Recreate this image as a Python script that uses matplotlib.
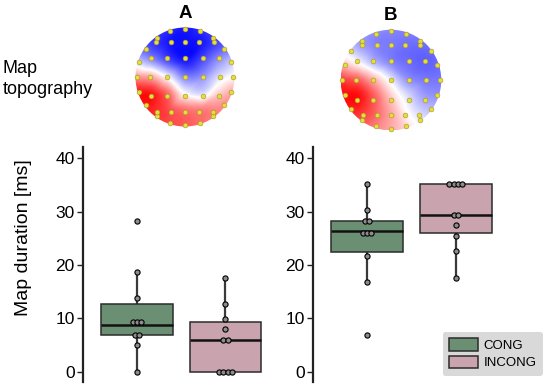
import numpy as np
import matplotlib.pyplot as plt
import matplotlib.tri as mtri
from matplotlib.patches import Circle, Patch

plt.rcParams['font.family'] = ['Liberation Sans', 'DejaVu Sans']

groups = ['CONG', 'INCONG']
box_colors = ['#6b8f72', '#c9a3ad']

# single-subject durations (ms)
a_cong = [28.3, 18.6, 13.8, 9.3, 9.3, 9.3, 6.9, 6.9, 4.9, 0]
a_incong = [17.6, 12.7, 9.8, 7.9, 5.9, 5.9, 0, 0, 0, 0]
b_cong = [35.2, 30.3, 28.3, 28.3, 26.0, 26.0, 26.0, 21.6, 16.7, 6.9]
b_incong = [35.2, 35.2, 35.2, 35.2, 29.4, 29.4, 27.4, 25.4, 22.6, 17.6]

# box stats: whisker low, q1, median, q3, whisker high
a_stats = [[0, 6.9, 8.8, 12.7, 18.6], [0, 0, 5.9, 9.3, 17.6]]
b_stats = [[16.7, 22.5, 26.4, 28.3, 35.2], [17.6, 25.9, 29.4, 35.2, 35.2]]

# electrode positions on the unit head disk
elec_x = [0, 0.31, 0.59, 0.81, 0.95, 1.0, 0.95, 0.81, 0.59, 0.31,
          0, -0.31, -0.59, -0.81, -0.95, -1.0, -0.95, -0.81, -0.59, -0.31,
          -0.6, -0.29, 0, 0.29, 0.6,
          -0.7, -0.37, 0, 0.37, 0.7,
          -0.72, -0.37, 0, 0.37, 0.72,
          -0.7, -0.37, 0, 0.37, 0.7,
          -0.58, -0.29, 0, 0.29, 0.58]
elec_y = [1.0, 0.95, 0.81, 0.59, 0.31, 0, -0.31, -0.59, -0.81, -0.95,
          -1.0, -0.95, -0.81, -0.59, -0.31, 0, 0.31, 0.59, 0.81, 0.95,
          0.72, 0.72, 0.72, 0.72, 0.72,
          0.39, 0.39, 0.39, 0.39, 0.39,
          0, 0, 0, 0, 0,
          -0.4, -0.4, -0.4, -0.4, -0.4,
          -0.72, -0.72, -0.72, -0.72, -0.72]

# coarse map amplitude (blue -1 .. red +1), rows top to bottom
topo_a = [[-0.6, -0.7, -0.85, -0.95, -0.85, -0.7, -0.55],
          [-0.6, -0.8, -0.95, -1.0, -0.95, -0.75, -0.55],
          [-0.2, -0.45, -0.75, -0.95, -0.75, -0.45, -0.2],
          [0.45, 0.35, -0.05, -0.5, -0.45, -0.15, 0.05],
          [1.0, 0.95, 0.6, 0.0, -0.15, 0.2, 0.4],
          [0.95, 0.9, 0.75, 0.6, 0.55, 0.5, 0.45],
          [0.8, 0.8, 0.75, 0.7, 0.6, 0.5, 0.45]]
topo_b = [[-0.35, -0.4, -0.45, -0.5, -0.5, -0.45, -0.45],
          [-0.1, -0.35, -0.5, -0.55, -0.6, -0.6, -0.55],
          [0.25, 0.0, -0.3, -0.5, -0.6, -0.65, -0.6],
          [0.8, 0.65, 0.3, -0.1, -0.45, -0.55, -0.55],
          [1.0, 1.0, 0.65, 0.2, -0.15, -0.4, -0.45],
          [0.9, 0.85, 0.65, 0.35, 0.0, -0.2, -0.3],
          [0.55, 0.55, 0.5, 0.35, 0.15, 0.0, -0.1]]

fig = plt.figure(figsize=(5.46, 3.85), dpi=100)


def draw_topo(rect, grid, label):
    ax = fig.add_axes(rect)
    grid = np.array(grid)
    n = grid.shape[0]
    gx, gy = np.meshgrid(np.linspace(-1, 1, n), np.linspace(1, -1, n))
    tri = mtri.Triangulation(gx.ravel(), gy.ravel())
    interp = mtri.CubicTriInterpolator(tri, grid.ravel(), kind='geom')
    fx, fy = np.meshgrid(np.linspace(-1, 1, 201), np.linspace(1, -1, 201))
    field = interp(fx, fy)
    im = ax.imshow(field, extent=[-1, 1, -1, 1], cmap='bwr', vmin=-1.05, vmax=1.05,
                   interpolation='bilinear')
    head = Circle((0, 0), 1.0, transform=ax.transData)
    im.set_clip_path(head)
    ax.scatter(np.array(elec_x) * 0.97, np.array(elec_y) * 0.97, s=12,
               color='#e6dc3c', edgecolors='#a09424', linewidths=0.4, zorder=3)
    ax.set_xlim(-1.03, 1.03)
    ax.set_ylim(-1.03, 1.03)
    ax.set_aspect('equal')
    ax.axis('off')
    ax.set_title(label, fontsize=13.5, fontweight='bold', pad=6)


draw_topo([0.2454, 0.6675, 0.1868, 0.265], topo_a, 'A')
draw_topo([0.621, 0.657, 0.190, 0.270], topo_b, 'B')

fig.text(3 / 546, 0.795, 'Map\ntopography', fontsize=13, ha='left', va='center',
         linespacing=1.25)


def draw_boxes(rect, stats, dots):
    ax = fig.add_axes(rect)
    bstats = []
    for s in stats:
        bstats.append({'whislo': s[0], 'q1': s[1], 'med': s[2], 'q3': s[3],
                       'whishi': s[4], 'fliers': []})
    bp = ax.bxp(bstats, positions=[0, 1], widths=0.81, patch_artist=True,
                showcaps=False, showfliers=False,
                boxprops=dict(edgecolor='#2b2b2b', linewidth=1.1),
                whiskerprops=dict(color='#3a3a3a', linewidth=1.6),
                medianprops=dict(color='#111111', linewidth=1.8))
    for patch, c in zip(bp['boxes'], box_colors):
        patch.set_facecolor(c)
    for w in bp['whiskers']:
        w.set_zorder(1)

    for i, vals in enumerate(dots):
        uniq, counts = np.unique(vals, return_counts=True)
        for v, n in zip(uniq, counts):
            offs = (np.arange(n) - (n - 1) / 2) * 0.048
            ax.scatter(i + offs, [v] * n, s=14, facecolor='#8c8c8c',
                       edgecolor='black', linewidth=0.8, zorder=4)

    ax.set_xlim(-0.61, 1.6)
    ax.set_ylim(-1.9, 42.1)
    ax.set_yticks([0, 10, 20, 30, 40])
    ax.set_xticks([])
    for side in ['top', 'right', 'bottom']:
        ax.spines[side].set_visible(False)
    ax.spines['left'].set_linewidth(1.6)
    ax.spines['left'].set_color('#222222')
    ax.tick_params(axis='y', length=4, width=1, color='#222222',
                   labelsize=12.5, pad=2)
    ax.patch.set_alpha(0)
    return ax


draw_boxes([0.152, 0.0086, 0.358, 0.6096], a_stats, [a_cong, a_incong])
draw_boxes([0.5733, 0.0086, 0.359, 0.6096], b_stats, [b_cong, b_incong])

fig.text(24 / 546, 1 - 238 / 385, 'Map duration [ms]', rotation=90,
         fontsize=14, ha='center', va='center')

handles = [Patch(facecolor=c, edgecolor='#2b2b2b', linewidth=1.1) for c in box_colors]
leg = fig.legend(handles, groups, loc='lower right',
                 bbox_to_anchor=(543 / 546, 1 - 376 / 385), fontsize=9.5,
                 frameon=True, fancybox=True, handlelength=2.2, handleheight=1.1,
                 handletextpad=0.4, labelspacing=0.25, borderpad=0.5,
                 borderaxespad=0)
leg.get_frame().set_facecolor('#d9d9d9')
leg.get_frame().set_edgecolor('none')
leg.get_frame().set_alpha(1)

fig.savefig('out.png', dpi=100)
